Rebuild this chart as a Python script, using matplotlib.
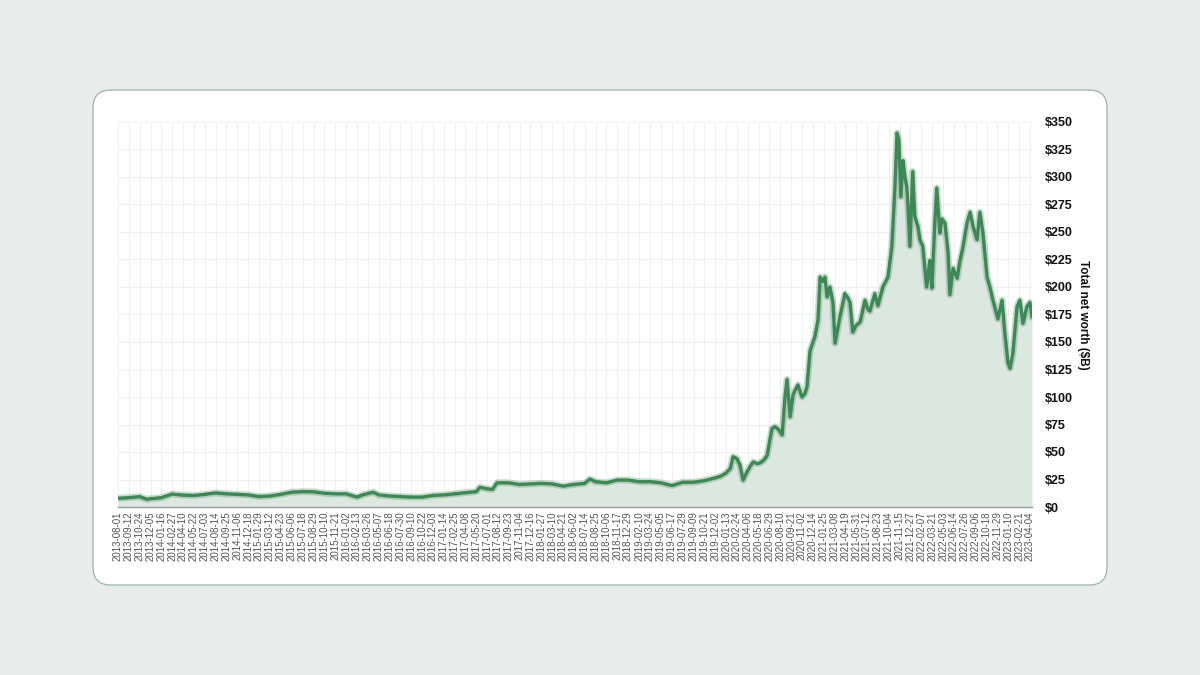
import pandas as pd
import matplotlib
matplotlib.use("Agg")
import matplotlib.pyplot as plt
from matplotlib.patches import FancyBboxPatch
from matplotlib.transforms import IdentityTransform

plt.rcParams['font.family'] = ['Liberation Sans', 'DejaVu Sans']

# 轴上的日期刻度（每 42 个数据点一个）
tick_dates = [
    "2013-08-01", "2013-09-12", "2013-10-24", "2013-12-05", "2014-01-16", "2014-02-27",
    "2014-04-10", "2014-05-22", "2014-07-03", "2014-08-14", "2014-09-25", "2014-11-06",
    "2014-12-18", "2015-01-29", "2015-03-12", "2015-04-23", "2015-06-06", "2015-07-18",
    "2015-08-29", "2015-10-10", "2015-11-21", "2016-01-02", "2016-02-13", "2016-03-26",
    "2016-05-07", "2016-06-18", "2016-07-30", "2016-09-10", "2016-10-22", "2016-12-03",
    "2017-01-14", "2017-02-25", "2017-04-08", "2017-05-20", "2017-07-01", "2017-08-12",
    "2017-09-23", "2017-11-04", "2017-12-16", "2018-01-27", "2018-03-10", "2018-04-21",
    "2018-06-02", "2018-07-14", "2018-08-25", "2018-10-06", "2018-11-17", "2018-12-29",
    "2019-02-10", "2019-03-24", "2019-05-05", "2019-06-17", "2019-07-29", "2019-09-09",
    "2019-10-21", "2019-12-02", "2020-01-13", "2020-02-24", "2020-04-06", "2020-05-18",
    "2020-06-29", "2020-08-10", "2020-09-21", "2020-11-02", "2020-12-14", "2021-01-25",
    "2021-03-08", "2021-04-19", "2021-05-31", "2021-07-12", "2021-08-23", "2021-10-04",
    "2021-11-15", "2021-12-27", "2022-02-07", "2022-03-21", "2022-05-03", "2022-06-14",
    "2022-07-26", "2022-09-06", "2022-10-18", "2022-11-29", "2023-01-10", "2023-02-21",
    "2023-04-04",
]

# 读出来的数据点（$B）
dates = [
    "2013-08-01", "2013-09-12", "2013-10-24", "2013-11-21", "2013-12-05", "2014-01-16",
    "2014-02-27", "2014-04-10", "2014-05-22", "2014-07-03", "2014-08-14", "2014-09-25",
    "2014-11-06", "2014-12-18", "2015-01-29", "2015-03-12", "2015-04-23", "2015-06-06",
    "2015-07-18", "2015-08-29", "2015-10-10", "2015-11-21", "2016-01-02", "2016-02-13",
    "2016-03-05", "2016-04-16", "2016-05-07", "2016-06-18", "2016-07-30", "2016-09-10",
    "2016-10-22", "2016-12-03", "2017-01-14", "2017-02-25", "2017-04-08", "2017-05-20",
    "2017-06-03", "2017-07-01", "2017-07-22", "2017-08-08", "2017-09-23", "2017-11-04",
    "2017-12-16", "2018-01-27", "2018-03-10", "2018-04-21", "2018-06-02", "2018-07-14",
    "2018-08-03", "2018-08-25", "2018-10-06", "2018-11-17", "2018-12-29", "2019-02-10",
    "2019-03-24", "2019-05-05", "2019-06-17", "2019-07-29", "2019-09-09", "2019-10-21",
    "2019-12-02", "2019-12-23", "2020-01-13",
    "2020-01-29", "2020-02-09", "2020-02-24", "2020-03-07", "2020-03-19", "2020-04-03",
    "2020-04-14", "2020-04-27", "2020-05-12", "2020-05-23", "2020-06-08", "2020-06-20",
    "2020-07-01", "2020-07-09", "2020-07-21", "2020-08-05", "2020-08-17", "2020-08-28",
    "2020-09-05", "2020-09-17", "2020-09-28", "2020-10-10", "2020-10-17", "2020-11-02",
    "2020-11-13", "2020-11-21", "2020-12-03", "2020-12-22", "2021-01-03", "2021-01-11",
    "2021-01-22", "2021-01-30", "2021-02-07", "2021-02-18", "2021-03-02", "2021-03-10",
    "2021-03-21", "2021-03-29", "2021-04-17", "2021-04-29", "2021-05-07", "2021-05-18",
    "2021-05-30", "2021-06-15", "2021-07-04", "2021-07-15", "2021-07-23", "2021-08-11",
    "2021-08-23", "2021-09-11", "2021-10-01", "2021-10-16", "2021-10-28", "2021-11-05",
    "2021-11-12", "2021-11-20", "2021-11-28", "2021-12-06", "2021-12-13", "2021-12-17",
    "2021-12-25", "2022-01-05", "2022-01-13", "2022-01-25", "2022-02-02", "2022-02-13",
    "2022-02-28", "2022-03-12", "2022-03-20", "2022-04-01", "2022-04-08", "2022-04-20",
    "2022-04-28", "2022-05-10", "2022-05-22", "2022-05-29", "2022-06-10", "2022-06-26",
    "2022-07-07", "2022-07-19", "2022-08-03", "2022-08-15", "2022-08-27", "2022-09-11",
    "2022-09-22", "2022-10-04", "2022-10-20", "2022-10-31", "2022-11-12", "2022-12-01",
    "2022-12-17", "2022-12-28", "2023-01-09", "2023-01-17", "2023-01-28", "2023-02-13",
    "2023-02-24", "2023-03-08", "2023-03-23", "2023-04-04", "2023-04-12",
]
net_worth = [
    7.9, 8.5, 9.4, 7.0, 7.5, 8.5,
    11.8, 10.8, 10.5, 11.5, 12.8, 12.0,
    11.5, 11.0, 9.5, 10.0, 11.5, 13.5,
    14.0, 13.8, 12.5, 12.0, 12.0, 9.0,
    11.0, 13.5, 11.0, 10.0, 9.5, 9.0,
    9.0, 10.5, 11.0, 12.0, 13.0, 14.0,
    18.0, 16.5, 16.0, 22.0, 22.0, 20.5,
    21.0, 21.5, 21.0, 19.0, 20.5, 21.5,
    25.5, 23.0, 22.0, 24.5, 24.5, 23.0,
    23.0, 22.0, 19.5, 22.5, 22.5, 24.0,
    26.5, 28.0, 31.0,
    35, 45.7, 44, 38, 24.5, 32,
    36.5, 41, 39.5, 40, 43, 47,
    62, 71.5, 73, 70, 65.5, 100,
    116, 82, 102, 108, 111, 100,
    103, 109, 142, 155, 170, 209,
    205, 209, 191, 200, 186, 149,
    163, 173, 194, 190, 186, 159,
    165, 168, 188, 180, 178, 194,
    183, 200, 209, 237, 291, 340,
    334, 282, 315, 300, 291, 276,
    237, 305, 264, 255, 243, 237,
    200, 224, 199, 261, 290, 249,
    262, 258, 231, 193, 217, 208,
    224, 237, 258, 268, 255, 243,
    268, 249, 209, 200, 188, 171,
    188, 158, 131, 126, 140, 182,
    188, 167, 182, 186, 173,
]
y_ticks = list(range(0, 351, 25))

x = pd.to_datetime(dates)
ticks = pd.to_datetime(tick_dates)

line_color = "#3f8756"
fill_color = "#dbe7df"

fig = plt.figure(figsize=(12, 6.75), dpi=100)
fig.patch.set_facecolor("#e8ecea")

# 白色圆角卡片（像素坐标），放在坐标轴下面
card = FancyBboxPatch((93, 90), 1014, 495, boxstyle="round,pad=0,rounding_size=18",
                      transform=IdentityTransform(), facecolor="white",
                      edgecolor="#9fb3a8", linewidth=0.9, zorder=-10)
fig.patches.append(card)

ax = fig.add_axes([118 / 1200, 168 / 675, 914 / 1200, 385 / 675])
ax.set_zorder(1)
ax.set_facecolor("none")

ax.fill_between(x, net_worth, 0, color=fill_color, linewidth=0, zorder=2)
ax.plot(x, net_worth, color=line_color, linewidth=5.0, alpha=0.28, zorder=3,
        solid_joinstyle="round")
ax.plot(x, net_worth, color=line_color, linewidth=2.4, zorder=4, solid_joinstyle="round")

ax.set_xlim(x[0], x[-1])
ax.set_ylim(0, 350)

ax.set_xticks(ticks)
ax.set_xticklabels(tick_dates, rotation=90, fontsize=7, color="#555555")
ax.set_yticks(y_ticks)
ax.set_yticklabels([f"${v}" for v in y_ticks], fontsize=9, fontweight="bold", color="#111111")
ax.yaxis.tick_right()
ax.yaxis.set_label_position("right")
ax.set_ylabel("Total net worth ($B)", fontsize=8.5, fontweight="bold", rotation=270,
              labelpad=12, color="#111111")

ax.tick_params(axis="x", length=0, pad=3)
ax.tick_params(axis="y", length=0, pad=9)

ax.grid(True, color="#f0f0f0", linewidth=0.8, zorder=1)
ax.set_axisbelow(True)

for side in ["top", "left", "right"]:
    ax.spines[side].set_visible(False)
ax.spines["bottom"].set_color("#999999")
ax.spines["bottom"].set_linewidth(1.0)
ax.spines["bottom"].set_zorder(5)

fig.savefig("out.png", dpi=100, facecolor=fig.get_facecolor())
